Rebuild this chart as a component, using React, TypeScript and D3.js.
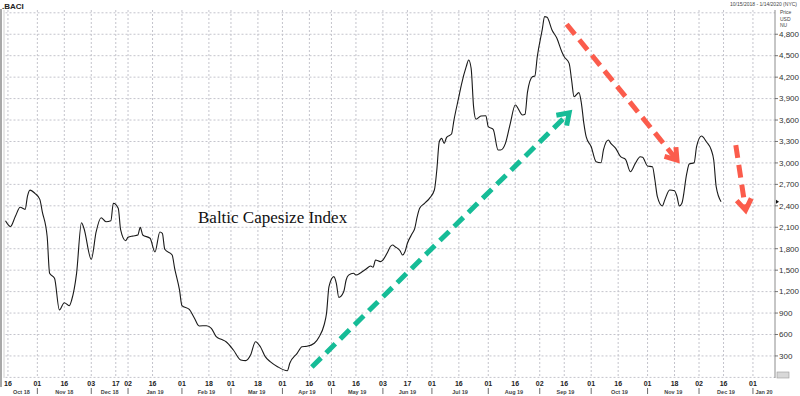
import React from "react";
import * as d3 from "d3";

// ---------- data ----------
const seriesDates: string[] = [
  "2018-10-15","2018-10-17","2018-10-19","2018-10-23","2018-10-25","2018-10-26","2018-10-29","2018-10-31",
  "2018-11-02","2018-11-05","2018-11-07","2018-11-08","2018-11-12","2018-11-14","2018-11-16","2018-11-20",
  "2018-11-21","2018-11-23","2018-11-27","2018-11-28","2018-12-03","2018-12-05","2018-12-07","2018-12-11",
  "2018-12-13","2018-12-14","2018-12-18","2018-12-19","2018-12-21","2019-01-02","2019-01-04","2019-01-08",
  "2019-01-09","2019-01-10","2019-01-15","2019-01-17","2019-01-21","2019-01-22","2019-01-23","2019-01-28",
  "2019-01-29","2019-01-31","2019-02-01","2019-02-06","2019-02-08","2019-02-12","2019-02-15","2019-02-19",
  "2019-02-21","2019-02-25","2019-02-27","2019-03-04","2019-03-07","2019-03-11","2019-03-13","2019-03-15",
  "2019-03-19","2019-03-21","2019-03-25","2019-03-28","2019-04-03","2019-04-04","2019-04-09","2019-04-11",
  "2019-04-15","2019-04-18","2019-04-24","2019-04-26","2019-04-29","2019-04-30","2019-05-02","2019-05-03",
  "2019-05-07","2019-05-09","2019-05-10","2019-05-13","2019-05-15","2019-05-16","2019-05-20","2019-05-22",
  "2019-05-24","2019-05-28","2019-05-29","2019-05-31","2019-06-03","2019-06-05","2019-06-06","2019-06-07",
  "2019-06-10","2019-06-12","2019-06-13","2019-06-14","2019-06-17","2019-06-19","2019-06-20","2019-06-21",
  "2019-06-24","2019-06-26","2019-06-28","2019-07-02","2019-07-03","2019-07-04","2019-07-05","2019-07-08",
  "2019-07-09","2019-07-11","2019-07-12","2019-07-16","2019-07-17","2019-07-19","2019-07-22","2019-07-23",
  "2019-07-24","2019-07-25","2019-07-29","2019-07-31","2019-08-01","2019-08-05","2019-08-07","2019-08-08",
  "2019-08-12","2019-08-14","2019-08-16","2019-08-21","2019-08-22","2019-08-23","2019-08-28","2019-08-29",
  "2019-08-30","2019-09-03","2019-09-04","2019-09-05","2019-09-09","2019-09-11","2019-09-13","2019-09-16",
  "2019-09-18","2019-09-19","2019-09-20","2019-09-24","2019-09-25","2019-09-26","2019-09-27","2019-10-01",
  "2019-10-03","2019-10-07","2019-10-08","2019-10-10","2019-10-11","2019-10-15","2019-10-17","2019-10-21",
  "2019-10-23","2019-10-25","2019-10-29","2019-10-30","2019-11-01","2019-11-05","2019-11-06","2019-11-07",
  "2019-11-11","2019-11-12","2019-11-14","2019-11-18","2019-11-19","2019-11-20","2019-11-21","2019-11-25",
  "2019-11-26","2019-11-28","2019-11-29","2019-12-03","2019-12-05","2019-12-09","2019-12-10","2019-12-11",
  "2019-12-13",
];
const seriesValues: number[] = [
  2190, 2110, 2250, 2380, 2350, 2540, 2620, 2575,
  2490, 2320, 1970, 1456, 1386, 943, 1045, 1003,
  1083, 1456, 2164, 2086, 1652, 2038, 2234, 2178,
  2192, 2435, 2365, 2062, 1912, 1960, 1978, 1992,
  2100, 1992, 1946, 1755, 2034, 2015, 1792, 1712,
  1530, 1223, 1005, 950, 835, 720, 723, 687,
  569, 533, 499, 383, 243, 234, 313, 499,
  429, 290, 220, 150, 94, 197, 337, 429,
  435, 477, 569, 733, 897, 1269, 1409, 1316,
  1120, 1199, 1362, 1430, 1456, 1432, 1465, 1512,
  1558, 1540, 1642, 1619, 1642, 1758, 1828, 1852,
  1828, 1772, 1712, 1758, 1876, 2015, 2085, 2248,
  2365, 2435, 2505, 2621, 2901, 3297, 3344, 3274,
  3358, 3405, 3600, 3926, 4090, 4346, 4440, 4324,
  3787, 3610, 3656, 3660, 3507, 3470, 3181, 3181,
  3274, 3554, 3810, 3670, 3680, 3990, 4206, 4216,
  4486, 4860, 5046, 5037, 4860, 4743, 4556, 4486,
  4393, 4160, 3926, 3983, 3834, 3554, 3360, 3227,
  3017, 3003, 3181, 3321, 3274, 3204, 3087, 3050,
  2877, 2994, 3087, 3078, 2957, 2947, 2761, 2528,
  2398, 2480, 2621, 2612, 2530, 2398, 2435, 2854,
  2985, 3003, 3227, 3377, 3297, 3181, 3041, 2668,
  2458,
];

// trading calendar (weekdays minus exchange holidays)
const calendarStart = "2018-10-15";
const calendarEnd = "2020-01-14";
const holidays: string[] = [
  "2018-12-24","2018-12-25","2018-12-26","2018-12-27","2018-12-28","2018-12-31","2019-01-01",
  "2019-04-19","2019-04-22","2019-05-06","2019-05-27","2019-08-26",
];

const tickDates: string[] = [
  "2018-10-16","2018-11-01","2018-11-16","2018-12-03","2018-12-17","2019-01-02","2019-01-16",
  "2019-02-01","2019-02-18","2019-03-01","2019-03-18","2019-04-01","2019-04-16","2019-05-01",
  "2019-05-16","2019-06-03","2019-06-17","2019-07-01","2019-07-16","2019-08-01","2019-08-16",
  "2019-09-02","2019-09-16","2019-10-01","2019-10-16","2019-11-01","2019-11-18","2019-12-02",
  "2019-12-16","2020-01-01",
];
const priceTicks: number[] = [300, 600, 900, 1200, 1500, 1800, 2100, 2400, 2700, 3000, 3300, 3600, 3900, 4200, 4500, 4800];
const gridValues: number[] = [0, 300, 600, 900, 1200, 1500, 1800, 2100, 2400, 2700, 3000, 3300, 3600, 3900, 4200, 4500, 4800, 5100];

const titleText = "Baltic Capesize Index";
const symbolText = ".BACI";
const rangeText = "10/15/2018 - 1/14/2020 (NYC)";
const axisHeader: string[] = ["Price", "USD", "NU"];

// annotation arrows: [startDate, startValue, endDate, endValue]
const greenArrow: [string, number, string, number] = ["2019-04-17", 145, "2019-09-18", 3700];
const redArrow1: [string, number, string, number] = ["2019-09-17", 4940, "2019-11-19", 3040];
const redArrow2: [string, number, string, number] = ["2019-12-23", 3250, "2019-12-27", 2340];

// ---------- helpers ----------
const parse = d3.timeParse("%Y-%m-%d");
const fmtKey = d3.timeFormat("%Y-%m-%d");

function buildCalendar(): Date[] {
  const hol = new Set(holidays);
  const out: Date[] = [];
  const days = d3.timeDay.range(parse(calendarStart)!, d3.timeDay.offset(parse(calendarEnd)!, 1));
  for (const d of days) {
    const wd = d.getDay();
    if (wd === 0 || wd === 6) continue;
    if (hol.has(fmtKey(d))) continue;
    out.push(d);
  }
  return out;
}

export default function App() {
  const W = 800, H = 396;
  const cal = buildCalendar();
  const indexOf = new Map(cal.map((d, i) => [fmtKey(d), i]));
  const idx = (s: string) => indexOf.get(s) ?? 0;

  const plotLeft = 5.5, plotRight = 775, plotTop = 10, plotBottom = 378;
  const x = d3.scaleLinear().domain([0, cal.length - 1]).range([plotLeft, plotRight]);
  const y = d3.scaleLinear().domain([0, 5100]).range([377.4, 12.8]);

  const pts: [number, number][] = seriesDates.map((d, i) => [x(idx(d)), y(seriesValues[i])]);
  const line = d3.line().curve(d3.curveMonotoneX)(pts) || "";

  // month boundaries
  const monthStarts: number[] = [];
  cal.forEach((d, i) => {
    if (i > 0 && d.getMonth() !== cal[i - 1].getMonth()) monthStarts.push(i);
  });
  const spans: { label: string; cx: number }[] = [];
  const bounds = [0, ...monthStarts, cal.length - 1];
  for (let k = 0; k < bounds.length - 1; k++) {
    const a = x(bounds[k]);
    const b = k + 1 < bounds.length - 1 ? x(bounds[k + 1]) : x(cal.length - 1);
    spans.push({ label: d3.timeFormat("%b %y")(cal[bounds[k]]), cx: (a + b) / 2 });
  }

  const arrow = (a: [string, number, string, number], color: string, key: string) => {
    const x1 = x(idx(a[0])), y1 = y(a[1]), x2 = x(idx(a[2])), y2 = y(a[3]);
    const ang = Math.atan2(y2 - y1, x2 - x1);
    const L = 13, spread = 0.6;
    const hx1 = x2 - L * Math.cos(ang - spread), hy1 = y2 - L * Math.sin(ang - spread);
    const hx2 = x2 - L * Math.cos(ang + spread), hy2 = y2 - L * Math.sin(ang + spread);
    const bx = x2 - 3 * Math.cos(ang), by = y2 - 3 * Math.sin(ang);
    return (
      <g key={key}>
        <line x1={x1} y1={y1} x2={bx} y2={by} stroke={color} strokeWidth={5} strokeDasharray="13,7" />
        <polyline points={`${hx1},${hy1} ${x2},${y2} ${hx2},${hy2}`} fill="none" stroke={color} strokeWidth={5} strokeLinejoin="miter" />
      </g>
    );
  };

  const lastY = y(seriesValues[seriesValues.length - 1]);
  const sans = "'Liberation Sans', Arial, sans-serif";

  return (
    <svg width={W} height={H} viewBox={`0 0 ${W} ${H}`} style={{ position: "absolute", left: 0, top: 0, display: "block", background: "#fff" }}>
      <rect x={0} y={0} width={W} height={H} fill="#fff" />
      {/* grid */}
      {gridValues.map((v) => (
        <line key={"h" + v} x1={plotLeft} x2={plotRight} y1={y(v)} y2={y(v)} stroke="#c4c4cc" strokeWidth={1} strokeDasharray="2,2" />
      ))}
      {tickDates.map((d) => (
        <line key={"v" + d} x1={x(idx(d))} x2={x(idx(d))} y1={plotTop} y2={plotBottom} stroke="#c4c4cc" strokeWidth={1} strokeDasharray="2,2" />
      ))}
      {/* frame */}
      <rect x={0} y={plotTop - 1} width={2} height={plotBottom - plotTop + 10} fill="#a8a8a8" />
      <line x1={4} x2={4} y1={plotTop} y2={plotBottom} stroke="#d0d0d0" strokeWidth={1} />
      <line x1={plotRight} x2={plotRight} y1={plotTop} y2={plotBottom} stroke="#8c8c8c" strokeWidth={1} />
      <rect x={777} y={372} width={12} height={6} fill="#d8d8d8" stroke="#999" strokeWidth={0.6} />

      {/* header */}
      <text x={2} y={9} fontFamily={sans} fontSize={8} fontWeight="bold" fill="#222">{symbolText}</text>
      <text x={797} y={6} fontFamily={sans} fontSize={5} fill="#444" textAnchor="end">{rangeText}</text>
      {axisHeader.map((t, i) => (
        <text key={t} x={780} y={14 + i * 6.5} fontFamily={sans} fontSize={5} fill="#444">{t}</text>
      ))}

      {/* right axis */}
      {priceTicks.map((v) => (
        <g key={"p" + v}>
          <line x1={plotRight} x2={plotRight + 3} y1={y(v)} y2={y(v)} stroke="#555" strokeWidth={0.8} />
          <text x={plotRight + 4} y={y(v)} dy="0.35em" fontFamily={sans} fontSize={8} fill="#333">{d3.format(",")(v)}</text>
        </g>
      ))}
      <path d={`M${plotRight + 4},${lastY} l-3,-2 l0,4 z`} fill="#111" />

      {/* x axis */}
      {tickDates.map((d) => (
        <text key={"t" + d} x={x(idx(d))} y={386} textAnchor="middle" fontFamily={sans} fontSize={7} fontWeight="bold" fill="#222">
          {d3.timeFormat("%d")(parse(d)!)}
        </text>
      ))}
      {monthStarts.map((i) => (
        <line key={"s" + i} x1={x(i)} x2={x(i)} y1={388} y2={394} stroke="#444" strokeWidth={0.8} />
      ))}
      {spans.map((s, i) => (
        <text key={"m" + i} x={s.cx} y={393.5} textAnchor="middle" fontFamily={sans} fontSize={5.5} fontWeight="bold" fill="#444">{s.label}</text>
      ))}

      {/* series */}
      <path d={line} fill="none" stroke="#1a1a1a" strokeWidth={1.1} strokeLinejoin="round" />

      {/* annotations */}
      {arrow(greenArrow, "#16bc97", "g")}
      {arrow(redArrow1, "#fb5c4c", "r1")}
      {arrow(redArrow2, "#fb5c4c", "r2")}

      <text x={198} y={223} fontFamily="'Liberation Serif', 'DejaVu Serif', serif" fontSize={17} fill="#111">{titleText}</text>
    </svg>
  );
}
